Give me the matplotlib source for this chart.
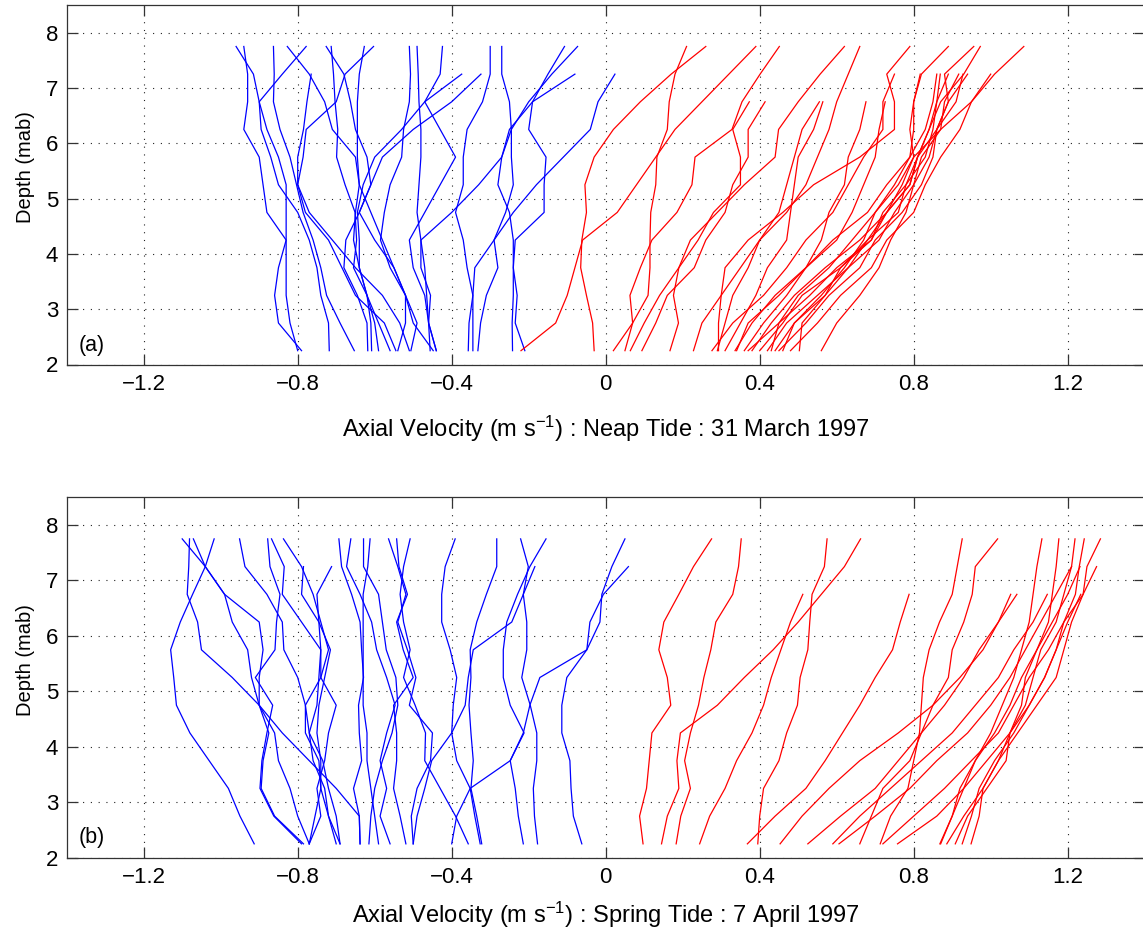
import matplotlib
matplotlib.use('Agg')
import matplotlib.pyplot as plt

plt.rcParams['font.family'] = ['Liberation Sans', 'DejaVu Sans']
plt.rcParams['mathtext.fontset'] = 'custom'
plt.rcParams['mathtext.rm'] = 'Liberation Sans'
plt.rcParams['mathtext.it'] = 'Liberation Sans'

# depth levels (m above bed), bottom to top
depth_levels = [2.25, 2.75, 3.25, 3.75, 4.25, 4.75, 5.25, 5.75, 6.25, 6.75, 7.25, 7.75]

x_ticks = [-1.2, -0.8, -0.4, 0, 0.4, 0.8, 1.2]
x_tick_labels = ['\u22121.2', '\u22120.8', '\u22120.4', '0', '0.4', '0.8', '1.2']
y_ticks = [2, 3, 4, 5, 6, 7, 8]

# ---- Neap tide (a): ebb (blue) profiles, values bottom -> top ----
neap_ebb = [
    [-0.79, -0.85, -0.86, -0.85, -0.83, -0.88, -0.89, -0.90, -0.94, -0.93, -0.93, -0.94],
    [-0.80, -0.82, -0.83, -0.83, -0.83, -0.83, -0.83, -0.85, -0.88, -0.90, -0.915, -0.96],
    [-0.653, -0.69, -0.725, -0.74, -0.76, -0.786, -0.803, -0.82, -0.846, -0.863, -0.861, -0.863],
    [-0.54, -0.52, -0.52, -0.55, -0.58, -0.61, -0.64, -0.65, -0.71, -0.73, -0.77, -0.827],
    [-0.718, -0.72, -0.74, -0.75, -0.77, -0.80, -0.85, -0.87, -0.895, -0.90, -0.84, -0.778],
    [-0.545, -0.575, -0.65, -0.685, -0.72, -0.78, -0.80, -0.80, -0.785, -0.776, -0.765],
    [-0.618, -0.62, -0.645, -0.68, -0.675, -0.64, -0.61, -0.62, -0.65, -0.663, -0.68, -0.726],
    [-0.608, -0.61, -0.62, -0.655, -0.647, -0.651, -0.677, -0.699, -0.696, -0.703, -0.707, -0.713],
    [-0.59, -0.60, -0.62, -0.64, -0.655, -0.65, -0.64, -0.645, -0.645, -0.645, -0.64, -0.627],
    [-0.51, -0.535, -0.58, -0.65, -0.71, -0.77, -0.80, -0.786, -0.778, -0.70, -0.677, -0.603],
    [-0.448, -0.50, -0.52, -0.56, -0.585, -0.575, -0.56, -0.53, -0.525, -0.51, -0.507, -0.51],
    [-0.456, -0.46, -0.465, -0.47, -0.48, -0.49, -0.485, -0.48, -0.48, -0.485, -0.487, -0.49],
    [-0.44, -0.46, -0.47, -0.50, -0.51, -0.47, -0.43, -0.39, -0.43, -0.47, -0.43, -0.424],
    [-0.506, -0.49, -0.52, -0.55, -0.60, -0.64, -0.61, -0.58, -0.50, -0.40, -0.324],
    [-0.56, -0.59, -0.62, -0.64, -0.64, -0.645, -0.63, -0.60, -0.53, -0.47, -0.374],
    [-0.357, -0.355, -0.345, -0.36, -0.37, -0.39, -0.37, -0.37, -0.36, -0.32, -0.30, -0.30],
    [-0.332, -0.325, -0.31, -0.28, -0.29, -0.26, -0.24, -0.245, -0.245, -0.25, -0.27, -0.27],
    [-0.21, -0.235, -0.23, -0.24, -0.235, -0.16, -0.16, -0.155, -0.20, -0.19, -0.15, -0.107],
    [-0.242, -0.243, -0.24, -0.24, -0.24, -0.25, -0.28, -0.27, -0.245, -0.20, -0.14, -0.073],
    [-0.44, -0.46, -0.455, -0.48, -0.48, -0.40, -0.33, -0.27, -0.25, -0.19, -0.08],
    [-0.345, -0.345, -0.345, -0.34, -0.29, -0.24, -0.18, -0.11, -0.04, -0.02, 0.024],
]

# ---- Neap tide (a): flood (red) profiles ----
neap_flood = [
    [-0.03, -0.034, -0.05, -0.065, -0.062, -0.05, -0.054, -0.03, 0.02, 0.09, 0.17, 0.26],
    [0.02, 0.07, 0.11, 0.115, 0.115, 0.117, 0.13, 0.133, 0.16, 0.165, 0.18, 0.21],
    [-0.22, -0.13, -0.10, -0.08, -0.06, 0.03, 0.08, 0.13, 0.18, 0.25, 0.32, 0.39],
    [0.05, 0.07, 0.063, 0.09, 0.12, 0.185, 0.224, 0.232, 0.328, 0.354, 0.401, 0.451],
    [0.167, 0.189, 0.176, 0.19, 0.22, 0.29, 0.36, 0.44, 0.449, 0.50, 0.557, 0.62],
    [0.228, 0.25, 0.30, 0.35, 0.40, 0.47, 0.52, 0.55, 0.58, 0.60, 0.63, 0.66],
    [0.293, 0.293, 0.30, 0.31, 0.37, 0.46, 0.54, 0.66, 0.75, 0.75, 0.73, 0.79],
    [0.43, 0.45, 0.50, 0.58, 0.64, 0.70, 0.75, 0.79, 0.80, 0.80, 0.82, 0.89],
    [0.56, 0.60, 0.66, 0.71, 0.74, 0.78, 0.80, 0.84, 0.86, 0.89, 0.88, 0.956],
    [0.503, 0.51, 0.57, 0.61, 0.69, 0.72, 0.78, 0.81, 0.84, 0.87, 0.93, 0.973],
    [0.46, 0.49, 0.56, 0.62, 0.67, 0.70, 0.76, 0.80, 0.87, 0.95, 1.01, 1.086],
    [0.064, 0.10, 0.14, 0.19, 0.24, 0.28, 0.35, 0.35, 0.33, 0.373],
    [0.094, 0.13, 0.16, 0.23, 0.26, 0.31, 0.33, 0.37, 0.37, 0.414],
    [0.29, 0.31, 0.33, 0.37, 0.40, 0.45, 0.47, 0.49, 0.51, 0.555],
    [0.31, 0.35, 0.39, 0.42, 0.47, 0.48, 0.49, 0.50, 0.54, 0.564],
    [0.336, 0.38, 0.44, 0.52, 0.56, 0.58, 0.62, 0.63, 0.66, 0.676],
    [0.36, 0.41, 0.47, 0.52, 0.60, 0.64, 0.67, 0.70, 0.71, 0.726],
    [0.276, 0.33, 0.41, 0.47, 0.52, 0.59, 0.63, 0.67, 0.72, 0.72, 0.75],
    [0.38, 0.43, 0.49, 0.57, 0.66, 0.73, 0.77, 0.80, 0.79, 0.80, 0.817],
    [0.40, 0.46, 0.51, 0.61, 0.68, 0.73, 0.79, 0.81, 0.84, 0.86, 0.869],
    [0.42, 0.47, 0.55, 0.63, 0.68, 0.76, 0.78, 0.83, 0.85, 0.86, 0.89],
    [0.44, 0.49, 0.57, 0.63, 0.71, 0.75, 0.80, 0.82, 0.87, 0.88, 0.917],
    [0.45, 0.52, 0.58, 0.66, 0.70, 0.77, 0.82, 0.85, 0.86, 0.91, 0.928],
    [0.37, 0.45, 0.53, 0.60, 0.69, 0.73, 0.79, 0.81, 0.86, 0.89, 0.94],
    [0.48, 0.55, 0.61, 0.69, 0.73, 0.80, 0.83, 0.87, 0.92, 0.95, 1.0],
    [0.34, 0.37, 0.45, 0.52, 0.59, 0.68, 0.73, 0.79, 0.83, 0.85, 0.86],
]

# ---- Spring tide (b): ebb (blue) profiles ----
spring_ebb = [
    [-0.913, -0.95, -0.98, -1.03, -1.08, -1.115, -1.122, -1.13, -1.105, -1.073, -1.04, -1.017],
    [-0.785, -0.86, -0.895, -0.89, -0.875, -0.90, -0.90, -0.89, -0.90, -0.99, -1.04, -1.10],
    [-0.638, -0.64, -0.70, -0.77, -0.84, -0.90, -0.97, -1.05, -1.06, -1.087, -1.083, -1.081],
    [-0.77, -0.80, -0.82, -0.85, -0.86, -0.90, -0.92, -0.93, -0.97, -0.99, -1.04, -1.071],
    [-0.69, -0.72, -0.74, -0.745, -0.78, -0.78, -0.80, -0.836, -0.84, -0.88, -0.937, -0.951],
    [-0.79, -0.862, -0.898, -0.893, -0.88, -0.865, -0.91, -0.859, -0.855, -0.846, -0.872, -0.878],
    [-0.70, -0.72, -0.73, -0.76, -0.77, -0.78, -0.74, -0.74, -0.79, -0.84, -0.835, -0.868],
    [-0.77, -0.74, -0.75, -0.73, -0.72, -0.70, -0.74, -0.72, -0.74, -0.76, -0.79, -0.837],
    [-0.77, -0.755, -0.74, -0.74, -0.75, -0.745, -0.73, -0.715, -0.745, -0.79, -0.785],
    [-0.69, -0.70, -0.72, -0.735, -0.77, -0.75, -0.745, -0.74, -0.745, -0.75, -0.712],
    [-0.638, -0.64, -0.655, -0.634, -0.64, -0.642, -0.629, -0.634, -0.638, -0.66, -0.686, -0.693],
    [-0.56, -0.586, -0.569, -0.586, -0.569, -0.547, -0.569, -0.595, -0.608, -0.638, -0.673, -0.662],
    [-0.615, -0.61, -0.60, -0.58, -0.555, -0.54, -0.545, -0.57, -0.58, -0.59, -0.629, -0.629],
    [-0.59, -0.60, -0.61, -0.62, -0.62, -0.63, -0.63, -0.63, -0.63, -0.63, -0.618, -0.612],
    [-0.50, -0.505, -0.49, -0.455, -0.45, -0.51, -0.493, -0.515, -0.54, -0.519, -0.54, -0.564],
    [-0.519, -0.534, -0.551, -0.543, -0.543, -0.551, -0.50, -0.526, -0.543, -0.515, -0.537, -0.543],
    [-0.357, -0.39, -0.43, -0.47, -0.468, -0.495, -0.525, -0.508, -0.525, -0.534, -0.525, -0.508],
    [-0.326, -0.34, -0.352, -0.387, -0.40, -0.396, -0.387, -0.404, -0.426, -0.426, -0.417, -0.391],
    [-0.322, -0.335, -0.35, -0.344, -0.35, -0.355, -0.35, -0.352, -0.335, -0.31, -0.283, -0.283],
    [-0.177, -0.185, -0.188, -0.179, -0.179, -0.196, -0.218, -0.205, -0.205, -0.214, -0.201, -0.221],
    [-0.214, -0.227, -0.235, -0.248, -0.212, -0.248, -0.266, -0.266, -0.257, -0.229, -0.197, -0.155],
    [-0.50, -0.49, -0.47, -0.452, -0.40, -0.365, -0.357, -0.344, -0.244, -0.214, -0.184],
    [-0.40, -0.387, -0.352, -0.248, -0.214, -0.197, -0.171, -0.049, -0.041, -0.006, 0.059],
    [-0.062, -0.084, -0.09, -0.093, -0.114, -0.114, -0.101, -0.049, -0.015, -0.01, 0.016, 0.05],
]

# ---- Spring tide (b): flood (red) profiles ----
spring_flood = [
    [0.097, 0.088, 0.106, 0.113, 0.12, 0.169, 0.16, 0.138, 0.151, 0.19, 0.228, 0.275],
    [0.183, 0.195, 0.22, 0.205, 0.22, 0.241, 0.255, 0.273, 0.286, 0.33, 0.345, 0.352],
    [0.395, 0.40, 0.41, 0.45, 0.47, 0.498, 0.505, 0.525, 0.53, 0.536, 0.568, 0.575],
    [0.145, 0.16, 0.19, 0.185, 0.194, 0.29, 0.36, 0.435, 0.50, 0.56, 0.62, 0.662],
    [0.244, 0.27, 0.31, 0.34, 0.38, 0.41, 0.43, 0.455, 0.48, 0.512],
    [0.368, 0.44, 0.52, 0.57, 0.615, 0.66, 0.70, 0.745, 0.765, 0.788],
    [0.713, 0.74, 0.785, 0.80, 0.815, 0.82, 0.825, 0.84, 0.867, 0.90, 0.913, 0.926],
    [0.66, 0.69, 0.72, 0.79, 0.82, 0.85, 0.89, 0.90, 0.93, 0.952, 0.96, 1.018],
    [0.868, 0.90, 0.93, 0.96, 1.0, 1.03, 1.06, 1.08, 1.10, 1.11, 1.12, 1.133],
    [0.886, 0.93, 0.98, 1.02, 1.05, 1.08, 1.09, 1.12, 1.15, 1.16, 1.17, 1.177],
    [0.908, 0.94, 0.99, 1.04, 1.05, 1.09, 1.11, 1.13, 1.17, 1.19, 1.21, 1.219],
    [0.926, 0.95, 0.97, 1.01, 1.06, 1.10, 1.14, 1.17, 1.19, 1.22, 1.23, 1.243],
    [0.949, 0.97, 0.98, 1.02, 1.07, 1.12, 1.17, 1.19, 1.21, 1.24, 1.25, 1.285],
    [0.87, 0.90, 0.92, 0.96, 1.01, 1.05, 1.08, 1.12, 1.16, 1.20, 1.232],
    [0.72, 0.80, 0.88, 0.95, 1.02, 1.06, 1.10, 1.15, 1.19, 1.24, 1.275],
    [0.453, 0.51, 0.58, 0.66, 0.76, 0.85, 0.92, 0.98, 1.02, 1.052],
    [0.525, 0.61, 0.70, 0.76, 0.82, 0.88, 0.93, 0.97, 1.02, 1.068],
    [0.59, 0.66, 0.74, 0.82, 0.90, 0.96, 1.02, 1.06, 1.11, 1.147],
    [0.758, 0.86, 0.93, 0.99, 1.05, 1.10, 1.14, 1.17, 1.20, 1.234],
    [0.606, 0.70, 0.79, 0.86, 0.94, 1.00, 1.05, 1.09, 1.13, 1.17, 1.21],
]

panels = [
    (neap_ebb, neap_flood, 'Axial Velocity (m s$^{-1}$) : Neap Tide : 31 March 1997', '(a)', 2.34),
    (spring_ebb, spring_flood, 'Axial Velocity (m s$^{-1}$) : Spring Tide : 7 April 1997', '(b)', 2.37),
]

W, H = 1143, 932
fig = plt.figure(figsize=(W / 100, H / 100), dpi=100)
# axes rectangles in pixels: left, top, right, bottom
rects = [(66.7, 5.0, 1144.7, 364.5), (66.7, 497.3, 1144.7, 857.7)]
label_y = [-0.2003, -0.182]

for (ebb, flood, xlabel, tag, tag_y), (l, t, r, b), ly in zip(panels, rects, label_y):
    ax = fig.add_axes([l / W, 1 - b / H, (r - l) / W, (b - t) / H])
    for prof in ebb:
        ax.plot(prof, depth_levels[:len(prof)], color='#0000ff', lw=0.9)
    for prof in flood:
        ax.plot(prof, depth_levels[:len(prof)], color='#ff0000', lw=0.9)
    ax.set_xlim(-1.4, 1.4)
    ax.set_ylim(2, 8.5)
    ax.set_xticks(x_ticks)
    ax.set_xticklabels(x_tick_labels)
    ax.set_yticks(y_ticks)
    ax.grid(True, linestyle=(0, (1, 6)), color='#222222', lw=0.8)
    ax.set_axisbelow(True)
    ax.tick_params(direction='in', length=8, width=0.9, top=True, right=True,
                   labelsize=16, color='#333333')
    ax.tick_params(axis='x', pad=7)
    ax.tick_params(axis='y', pad=6)
    for sp in ax.spines.values():
        sp.set_color('#333333')
        sp.set_linewidth(0.9)
    ax.set_xlabel(xlabel, fontsize=17, va='baseline')
    ax.xaxis.set_label_coords(0.5, ly)
    ax.set_ylabel('Depth (mab)', fontsize=14.5)
    ax.yaxis.set_label_coords(-0.029, 0.548)
    ax.text(-1.368, tag_y, tag, fontsize=15.5, ha='left', va='center')

fig.savefig('out.png', dpi=100)
